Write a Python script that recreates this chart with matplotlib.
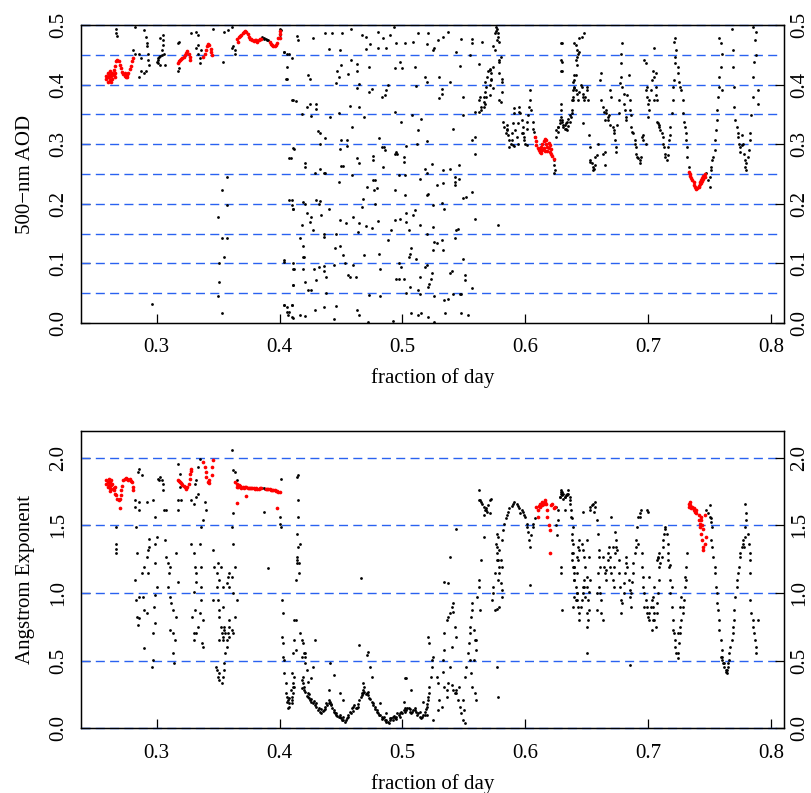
import numpy as np
import matplotlib
matplotlib.use("Agg")
import matplotlib.pyplot as plt

plt.rcParams['font.family'] = ['Liberation Serif', 'DejaVu Serif']

# ---- 500-nm AOD: (fraction of day, AOD) ----
aod_red = [
    (0.259, 0.410), (0.259, 0.415), (0.260, 0.405), (0.260, 0.420), (0.261, 0.412), (0.261, 0.418),
    (0.262, 0.408), (0.262, 0.423), (0.263, 0.414), (0.263, 0.405), (0.264, 0.419), (0.264, 0.410),
    (0.265, 0.416), (0.265, 0.425), (0.266, 0.420), (0.266, 0.412), (0.260, 0.413), (0.262, 0.416),
    (0.266, 0.432), (0.267, 0.440), (0.268, 0.442), (0.269, 0.439), (0.270, 0.433), (0.271, 0.427),
    (0.272, 0.421), (0.273, 0.417), (0.274, 0.414), (0.275, 0.413), (0.276, 0.416), (0.277, 0.420),
    (0.278, 0.426), (0.279, 0.432), (0.280, 0.439), (0.281, 0.445), (0.274, 0.419), (0.276, 0.412),
    (0.317, 0.436), (0.318, 0.439), (0.319, 0.441), (0.320, 0.443), (0.321, 0.445), (0.322, 0.447),
    (0.323, 0.450), (0.324, 0.453), (0.325, 0.457), (0.326, 0.452), (0.327, 0.446), (0.327, 0.442),
    (0.338, 0.447), (0.339, 0.452), (0.340, 0.458), (0.341, 0.464), (0.342, 0.468), (0.343, 0.466),
    (0.344, 0.460), (0.344, 0.454), (0.345, 0.450),
    (0.365, 0.476), (0.366, 0.472), (0.367, 0.479), (0.368, 0.481), (0.369, 0.484), (0.370, 0.486),
    (0.371, 0.489), (0.372, 0.490), (0.373, 0.488), (0.374, 0.485), (0.375, 0.480), (0.376, 0.477),
    (0.377, 0.476), (0.378, 0.474), (0.379, 0.473), (0.380, 0.475), (0.381, 0.474), (0.382, 0.472),
    (0.383, 0.474), (0.384, 0.476), (0.385, 0.477), (0.392, 0.471), (0.393, 0.468), (0.394, 0.466),
    (0.395, 0.465), (0.396, 0.464), (0.397, 0.467), (0.398, 0.470), (0.399, 0.478), (0.400, 0.485),
    (0.400, 0.490), (0.400, 0.478),
    (0.608, 0.312), (0.609, 0.305), (0.609, 0.298), (0.610, 0.293), (0.611, 0.290), (0.612, 0.287),
    (0.612, 0.292), (0.613, 0.286), (0.613, 0.296), (0.614, 0.290), (0.614, 0.300), (0.615, 0.305),
    (0.615, 0.294), (0.616, 0.309), (0.616, 0.288), (0.617, 0.300), (0.617, 0.307), (0.618, 0.295),
    (0.618, 0.289), (0.619, 0.302), (0.619, 0.293), (0.620, 0.298), (0.620, 0.287), (0.621, 0.292),
    (0.621, 0.284), (0.622, 0.280), (0.623, 0.275),
    (0.733, 0.254), (0.734, 0.250), (0.734, 0.246), (0.735, 0.243), (0.736, 0.240), (0.737, 0.236),
    (0.737, 0.232), (0.738, 0.229), (0.739, 0.226), (0.739, 0.224), (0.740, 0.226), (0.741, 0.230),
    (0.741, 0.228), (0.742, 0.233), (0.742, 0.237), (0.743, 0.235), (0.743, 0.240), (0.744, 0.244),
    (0.744, 0.238), (0.745, 0.247), (0.745, 0.241), (0.746, 0.250), (0.746, 0.245),
]

aod_morning = [
    (0.267, 0.493), (0.267, 0.486), (0.268, 0.482), (0.282, 0.496), (0.281, 0.458), (0.282, 0.452),
    (0.286, 0.452), (0.287, 0.444), (0.286, 0.413), (0.287, 0.422), (0.290, 0.492), (0.291, 0.480),
    (0.292, 0.470), (0.292, 0.464), (0.293, 0.452), (0.293, 0.441), (0.294, 0.433), (0.291, 0.422),
    (0.290, 0.419), (0.300, 0.438), (0.301, 0.441), (0.301, 0.444), (0.302, 0.447), (0.303, 0.448),
    (0.304, 0.450), (0.301, 0.436), (0.305, 0.483), (0.305, 0.475), (0.305, 0.466), (0.304, 0.458),
    (0.306, 0.452), (0.307, 0.433), (0.303, 0.433), (0.303, 0.478), (0.317, 0.469), (0.318, 0.472),
    (0.318, 0.427), (0.317, 0.422), (0.328, 0.486), (0.332, 0.489), (0.334, 0.483), (0.334, 0.466),
    (0.332, 0.461), (0.334, 0.452), (0.335, 0.444), (0.335, 0.436), (0.336, 0.458), (0.346, 0.493),
    (0.354, 0.438), (0.355, 0.489), (0.358, 0.492), (0.361, 0.461), (0.362, 0.464), (0.364, 0.458),
    (0.364, 0.452), (0.361, 0.497), (0.386, 0.479), (0.387, 0.478), (0.389, 0.476), (0.390, 0.475),
    (0.391, 0.474), (0.387, 0.476), (0.357, 0.245), (0.353, 0.223), (0.350, 0.178), (0.357, 0.198),
    (0.353, 0.142), (0.357, 0.142), (0.355, 0.111), (0.351, 0.100), (0.351, 0.069), (0.350, 0.045),
    (0.353, 0.016), (0.296, 0.032),
    (0.401, 0.492), (0.404, 0.455), (0.406, 0.452), (0.408, 0.452), (0.406, 0.430), (0.406, 0.410),
    (0.410, 0.374), (0.411, 0.293), (0.409, 0.276), (0.410, 0.206), (0.411, 0.192), (0.410, 0.198),
    (0.404, 0.105), (0.411, 0.091), (0.411, 0.063), (0.404, 0.031), (0.406, 0.027), (0.410, 0.030),
    (0.408, 0.018), (0.410, 0.010),
]

aod_midday = [
    (0.400, 0.493), (0.400, 0.483), (0.404, 0.455), (0.410, 0.444), (0.405, 0.410), (0.414, 0.482),
    (0.415, 0.475), (0.427, 0.478), (0.437, 0.486), (0.443, 0.487), (0.451, 0.486), (0.458, 0.493),
    (0.467, 0.483), (0.470, 0.479), (0.480, 0.488), (0.484, 0.478), (0.490, 0.483), (0.493, 0.497),
    (0.440, 0.459), (0.449, 0.458), (0.470, 0.459), (0.474, 0.468), (0.480, 0.462), (0.487, 0.462),
    (0.495, 0.469), (0.502, 0.469), (0.509, 0.472), (0.513, 0.487), (0.520, 0.468), (0.521, 0.486),
    (0.525, 0.458), (0.526, 0.462), (0.529, 0.475), (0.533, 0.480), (0.537, 0.488), (0.548, 0.476),
    (0.557, 0.476), (0.557, 0.469), (0.565, 0.472), (0.574, 0.464), (0.575, 0.486), (0.576, 0.490),
    (0.577, 0.494), (0.578, 0.480), (0.579, 0.472),
    (0.458, 0.442), (0.450, 0.433), (0.463, 0.434), (0.494, 0.427), (0.498, 0.438), (0.500, 0.427),
    (0.510, 0.430), (0.547, 0.432), (0.562, 0.434), (0.555, 0.450), (0.544, 0.454), (0.579, 0.438),
    (0.580, 0.447), (0.447, 0.422), (0.456, 0.418), (0.463, 0.422), (0.473, 0.430), (0.423, 0.416),
    (0.425, 0.409), (0.448, 0.413), (0.446, 0.402), (0.463, 0.394), (0.465, 0.401), (0.473, 0.388),
    (0.475, 0.392), (0.486, 0.382), (0.487, 0.391), (0.488, 0.399), (0.511, 0.398), (0.518, 0.412),
    (0.520, 0.405), (0.530, 0.412), (0.532, 0.392), (0.532, 0.385), (0.530, 0.378), (0.539, 0.405),
    (0.549, 0.380),
    (0.411, 0.374), (0.413, 0.373), (0.422, 0.362), (0.425, 0.367), (0.430, 0.367), (0.430, 0.359),
    (0.426, 0.347), (0.418, 0.350), (0.441, 0.346), (0.448, 0.352), (0.457, 0.364), (0.465, 0.363),
    (0.469, 0.346), (0.483, 0.380), (0.494, 0.354), (0.499, 0.338), (0.508, 0.349), (0.515, 0.343),
    (0.513, 0.324), (0.520, 0.306), (0.549, 0.349), (0.559, 0.312), (0.557, 0.307), (0.559, 0.283),
    (0.541, 0.326), (0.481, 0.311), (0.485, 0.296), (0.495, 0.287), (0.503, 0.297), (0.512, 0.300),
    (0.433, 0.300), (0.437, 0.310), (0.433, 0.318), (0.431, 0.322), (0.450, 0.307), (0.455, 0.307),
    (0.459, 0.329), (0.449, 0.292), (0.455, 0.297), (0.463, 0.276), (0.465, 0.269), (0.476, 0.280),
    (0.476, 0.273), (0.483, 0.296), (0.486, 0.290), (0.484, 0.262), (0.494, 0.283), (0.496, 0.284),
    (0.501, 0.279), (0.501, 0.270),
    (0.408, 0.276), (0.412, 0.292), (0.421, 0.268), (0.421, 0.262), (0.429, 0.252), (0.433, 0.258),
    (0.436, 0.251), (0.437, 0.252), (0.450, 0.264), (0.452, 0.264), (0.459, 0.248), (0.476, 0.240),
    (0.478, 0.240), (0.477, 0.223), (0.479, 0.226), (0.471, 0.228), (0.468, 0.208), (0.467, 0.195),
    (0.448, 0.237), (0.408, 0.206), (0.411, 0.192), (0.419, 0.203), (0.421, 0.200), (0.430, 0.206),
    (0.432, 0.200), (0.433, 0.204), (0.440, 0.192), (0.422, 0.184), (0.426, 0.178), (0.434, 0.181),
    (0.425, 0.170), (0.418, 0.164), (0.417, 0.143), (0.419, 0.130), (0.427, 0.156), (0.436, 0.150),
    (0.436, 0.144), (0.446, 0.150), (0.449, 0.172), (0.454, 0.168), (0.460, 0.178), (0.465, 0.167),
    (0.464, 0.153), (0.470, 0.163), (0.475, 0.159), (0.480, 0.171), (0.488, 0.139), (0.491, 0.156),
    (0.494, 0.172), (0.498, 0.175), (0.503, 0.170), (0.505, 0.156), (0.509, 0.181), (0.514, 0.164),
    (0.520, 0.150), (0.525, 0.161), (0.526, 0.136), (0.532, 0.139), (0.533, 0.122), (0.543, 0.142),
    (0.544, 0.156), (0.545, 0.158), (0.502, 0.214), (0.503, 0.184), (0.510, 0.189), (0.520, 0.214),
    (0.521, 0.216), (0.525, 0.198), (0.532, 0.202), (0.534, 0.192), (0.502, 0.248), (0.514, 0.241),
    (0.518, 0.259), (0.520, 0.252), (0.524, 0.266), (0.528, 0.232), (0.533, 0.235), (0.533, 0.256),
    (0.539, 0.259), (0.543, 0.245), (0.543, 0.237), (0.546, 0.242), (0.546, 0.265), (0.549, 0.209),
    (0.552, 0.212), (0.557, 0.219), (0.559, 0.175), (0.578, 0.164), (0.543, 0.231), (0.497, 0.248),
    (0.494, 0.223), (0.478, 0.200),
    (0.404, 0.102), (0.411, 0.100), (0.412, 0.090), (0.419, 0.111), (0.420, 0.111), (0.419, 0.090),
    (0.428, 0.091), (0.432, 0.094), (0.436, 0.096), (0.436, 0.088), (0.444, 0.097), (0.445, 0.125),
    (0.449, 0.129), (0.452, 0.114), (0.453, 0.100), (0.460, 0.097), (0.469, 0.114), (0.481, 0.116),
    (0.482, 0.091), (0.497, 0.100), (0.499, 0.094), (0.505, 0.111), (0.507, 0.125), (0.506, 0.116),
    (0.511, 0.108), (0.514, 0.077), (0.518, 0.094), (0.520, 0.097), (0.524, 0.084), (0.525, 0.122),
    (0.528, 0.134), (0.539, 0.084), (0.540, 0.087), (0.549, 0.108), (0.551, 0.080), (0.551, 0.072),
    (0.411, 0.063), (0.421, 0.069), (0.423, 0.055), (0.426, 0.056), (0.430, 0.072), (0.438, 0.077),
    (0.456, 0.080), (0.457, 0.077), (0.462, 0.077), (0.495, 0.074), (0.497, 0.073), (0.501, 0.074),
    (0.506, 0.060), (0.503, 0.050), (0.513, 0.055), (0.514, 0.049), (0.521, 0.060), (0.522, 0.066),
    (0.523, 0.073), (0.526, 0.046), (0.541, 0.049), (0.547, 0.049), (0.548, 0.048), (0.557, 0.058),
    (0.404, 0.030), (0.406, 0.018), (0.410, 0.030), (0.407, 0.013), (0.411, 0.009), (0.417, 0.014),
    (0.421, 0.011), (0.429, 0.021), (0.436, 0.027), (0.438, 0.050), (0.444, 0.007), (0.446, 0.028),
    (0.463, 0.021), (0.465, 0.014), (0.472, 0.002), (0.473, 0.047), (0.482, 0.046), (0.492, 0.004),
    (0.507, 0.016), (0.513, 0.014), (0.515, 0.016), (0.521, 0.010), (0.526, 0.002), (0.534, 0.038),
    (0.535, 0.016), (0.537, 0.041), (0.548, 0.016), (0.553, 0.013),
    (0.559, 0.354), (0.562, 0.374), (0.563, 0.380), (0.564, 0.363), (0.562, 0.354), (0.566, 0.371),
    (0.566, 0.380), (0.567, 0.388), (0.568, 0.396), (0.567, 0.405), (0.569, 0.413), (0.570, 0.422),
    (0.571, 0.426), (0.572, 0.419), (0.571, 0.399), (0.572, 0.408), (0.574, 0.394), (0.571, 0.382),
    (0.568, 0.380), (0.566, 0.363), (0.564, 0.357), (0.567, 0.368), (0.571, 0.424), (0.572, 0.410),
    (0.574, 0.430), (0.575, 0.458), (0.577, 0.475), (0.578, 0.486), (0.576, 0.497), (0.579, 0.441),
    (0.579, 0.419), (0.581, 0.405), (0.581, 0.410), (0.581, 0.388), (0.580, 0.371), (0.579, 0.374),
]

aod_afternoon = [
    (0.582, 0.338), (0.583, 0.329), (0.585, 0.332), (0.585, 0.324), (0.586, 0.315), (0.587, 0.307),
    (0.587, 0.296), (0.588, 0.301), (0.589, 0.307), (0.589, 0.318), (0.590, 0.335), (0.591, 0.352),
    (0.591, 0.360), (0.592, 0.324), (0.593, 0.312), (0.594, 0.301), (0.594, 0.335), (0.595, 0.354),
    (0.595, 0.363), (0.596, 0.352), (0.597, 0.340), (0.598, 0.329), (0.598, 0.318), (0.599, 0.307),
    (0.600, 0.301), (0.601, 0.326), (0.601, 0.338), (0.602, 0.349), (0.603, 0.363), (0.604, 0.374),
    (0.604, 0.391), (0.605, 0.357), (0.606, 0.338), (0.606, 0.326), (0.607, 0.321), (0.608, 0.312),
    (0.584, 0.318), (0.585, 0.326), (0.590, 0.298), (0.591, 0.297), (0.597, 0.318), (0.599, 0.312),
    (0.601, 0.298),
    (0.623, 0.273), (0.623, 0.265), (0.624, 0.256), (0.623, 0.251),
    (0.625, 0.312), (0.627, 0.321), (0.627, 0.329), (0.628, 0.340), (0.629, 0.346), (0.630, 0.338),
    (0.631, 0.329), (0.632, 0.332), (0.633, 0.335), (0.633, 0.326), (0.634, 0.324), (0.635, 0.330),
    (0.636, 0.338), (0.637, 0.346), (0.638, 0.357), (0.638, 0.374), (0.639, 0.391), (0.639, 0.405),
    (0.640, 0.416), (0.641, 0.441), (0.642, 0.458), (0.641, 0.466), (0.629, 0.357), (0.629, 0.422),
    (0.629, 0.441), (0.629, 0.470), (0.640, 0.396),
    (0.625, 0.324), (0.627, 0.329), (0.628, 0.335), (0.630, 0.340), (0.631, 0.332), (0.632, 0.326),
    (0.634, 0.338), (0.635, 0.343), (0.636, 0.349), (0.638, 0.352), (0.629, 0.368), (0.630, 0.422),
    (0.630, 0.438), (0.630, 0.469),
    (0.639, 0.380), (0.640, 0.394), (0.640, 0.408), (0.641, 0.416), (0.642, 0.433), (0.642, 0.447),
    (0.643, 0.452), (0.644, 0.455), (0.644, 0.478), (0.646, 0.480), (0.648, 0.486), (0.640, 0.469),
    (0.639, 0.374), (0.641, 0.391), (0.642, 0.385), (0.643, 0.374), (0.644, 0.388), (0.645, 0.399),
    (0.646, 0.396), (0.647, 0.385), (0.647, 0.380), (0.648, 0.374), (0.649, 0.380), (0.650, 0.391),
    (0.650, 0.396), (0.651, 0.374), (0.647, 0.335), (0.652, 0.315),
    (0.653, 0.296), (0.653, 0.273), (0.654, 0.268), (0.655, 0.262), (0.656, 0.259), (0.657, 0.265),
    (0.657, 0.279), (0.658, 0.282), (0.655, 0.256), (0.653, 0.270), (0.659, 0.301), (0.665, 0.287),
    (0.665, 0.265), (0.663, 0.284),
    (0.661, 0.408), (0.662, 0.419), (0.662, 0.374), (0.663, 0.363), (0.664, 0.354), (0.665, 0.340),
    (0.666, 0.352), (0.666, 0.357), (0.667, 0.346), (0.667, 0.340), (0.668, 0.349), (0.669, 0.332),
    (0.669, 0.391), (0.670, 0.380), (0.671, 0.329), (0.672, 0.324), (0.672, 0.318), (0.673, 0.307),
    (0.674, 0.296), (0.674, 0.287), (0.675, 0.332), (0.676, 0.352), (0.676, 0.374), (0.677, 0.402),
    (0.678, 0.436), (0.678, 0.452), (0.679, 0.469), (0.678, 0.413), (0.679, 0.396), (0.680, 0.385),
    (0.680, 0.368), (0.681, 0.357), (0.682, 0.346), (0.682, 0.340), (0.683, 0.382), (0.684, 0.416),
    (0.685, 0.374), (0.685, 0.357), (0.686, 0.349),
    (0.686, 0.329), (0.687, 0.321), (0.688, 0.318), (0.689, 0.307), (0.689, 0.301), (0.690, 0.296),
    (0.690, 0.284), (0.691, 0.279), (0.692, 0.276), (0.693, 0.273), (0.693, 0.269), (0.694, 0.279),
    (0.695, 0.312), (0.696, 0.315), (0.696, 0.307), (0.698, 0.301),
    (0.697, 0.441), (0.698, 0.436), (0.699, 0.396), (0.699, 0.380), (0.700, 0.368), (0.701, 0.357),
    (0.701, 0.374), (0.702, 0.391), (0.703, 0.408), (0.704, 0.422), (0.705, 0.413), (0.706, 0.396),
    (0.706, 0.382), (0.707, 0.374), (0.705, 0.461), (0.706, 0.419), (0.705, 0.374), (0.700, 0.346),
    (0.698, 0.391),
    (0.707, 0.338), (0.708, 0.335), (0.709, 0.329), (0.709, 0.332), (0.710, 0.324), (0.711, 0.318),
    (0.712, 0.312), (0.712, 0.301), (0.713, 0.296), (0.714, 0.284), (0.714, 0.279), (0.715, 0.274),
    (0.716, 0.282), (0.716, 0.296), (0.717, 0.307), (0.718, 0.315), (0.718, 0.329), (0.719, 0.352),
    (0.720, 0.374), (0.720, 0.396), (0.721, 0.408), (0.722, 0.436), (0.722, 0.447), (0.722, 0.478),
    (0.721, 0.472), (0.723, 0.458), (0.724, 0.430), (0.724, 0.419), (0.725, 0.405), (0.726, 0.396),
    (0.727, 0.391), (0.728, 0.374), (0.728, 0.352), (0.729, 0.338), (0.730, 0.329), (0.731, 0.318),
    (0.731, 0.307), (0.732, 0.296), (0.732, 0.279), (0.733, 0.262),
    (0.747, 0.251), (0.749, 0.240), (0.750, 0.228), (0.750, 0.245), (0.751, 0.256), (0.751, 0.262),
    (0.752, 0.273), (0.753, 0.279), (0.754, 0.290), (0.754, 0.307), (0.755, 0.324), (0.756, 0.340),
    (0.756, 0.357), (0.757, 0.380), (0.758, 0.396), (0.758, 0.413), (0.759, 0.430), (0.760, 0.452),
    (0.759, 0.469), (0.758, 0.478), (0.760, 0.391),
    (0.768, 0.494), (0.769, 0.458), (0.769, 0.430), (0.770, 0.396), (0.770, 0.363), (0.771, 0.340),
    (0.772, 0.329), (0.773, 0.318), (0.773, 0.312), (0.774, 0.301), (0.775, 0.296), (0.775, 0.287),
    (0.776, 0.298), (0.776, 0.315), (0.777, 0.301), (0.778, 0.284), (0.779, 0.273), (0.779, 0.262),
    (0.780, 0.256), (0.780, 0.268), (0.781, 0.279), (0.782, 0.290), (0.783, 0.307), (0.783, 0.318),
    (0.784, 0.349), (0.785, 0.380), (0.785, 0.413), (0.786, 0.438), (0.787, 0.475), (0.788, 0.489),
    (0.788, 0.450), (0.789, 0.391), (0.789, 0.368), (0.785, 0.497),
]

# ---- Angstrom exponent: (fraction of day, alpha) ----
ang_red = [
    (0.259, 1.833), (0.259, 1.808), (0.260, 1.784), (0.260, 1.820), (0.261, 1.796), (0.261, 1.845),
    (0.262, 1.779), (0.262, 1.820), (0.263, 1.796), (0.263, 1.833), (0.264, 1.808), (0.265, 1.779),
    (0.265, 1.759), (0.266, 1.784), (0.266, 1.734), (0.267, 1.722), (0.268, 1.697), (0.269, 1.685),
    (0.270, 1.697), (0.270, 1.624), (0.271, 1.722), (0.271, 1.759), (0.272, 1.790), (0.273, 1.833),
    (0.274, 1.845), (0.275, 1.852), (0.276, 1.840), (0.277, 1.833), (0.278, 1.845), (0.279, 1.830),
    (0.280, 1.820), (0.281, 1.784), (0.281, 1.764), (0.262, 1.754), (0.263, 1.770),
    (0.317, 1.833), (0.318, 1.830), (0.319, 1.820), (0.320, 1.812), (0.321, 1.800), (0.322, 1.790),
    (0.323, 1.784), (0.324, 1.771), (0.325, 1.780), (0.326, 1.808), (0.327, 1.845), (0.327, 1.880),
    (0.328, 1.919), (0.328, 1.900),
    (0.338, 1.968), (0.339, 1.931), (0.340, 1.894), (0.340, 1.857), (0.342, 1.820), (0.343, 1.810),
    (0.343, 1.833), (0.345, 1.870), (0.345, 1.931), (0.346, 1.980),
    (0.364, 1.820), (0.365, 1.808), (0.366, 1.784), (0.367, 1.796), (0.368, 1.790), (0.369, 1.779),
    (0.370, 1.784), (0.371, 1.776), (0.372, 1.780), (0.373, 1.784), (0.374, 1.776), (0.375, 1.774),
    (0.376, 1.774), (0.377, 1.778), (0.378, 1.776), (0.379, 1.774), (0.380, 1.771), (0.381, 1.774),
    (0.382, 1.771), (0.383, 1.771), (0.384, 1.774), (0.385, 1.776), (0.389, 1.771), (0.390, 1.769),
    (0.391, 1.771), (0.392, 1.766), (0.393, 1.764), (0.394, 1.762), (0.395, 1.759), (0.396, 1.759),
    (0.397, 1.754), (0.398, 1.751), (0.399, 1.747), (0.400, 1.747), (0.365, 1.784), (0.373, 1.715),
    (0.365, 1.665), (0.398, 1.624),
    (0.609, 1.636), (0.610, 1.562), (0.610, 1.611), (0.611, 1.641), (0.612, 1.636), (0.613, 1.648),
    (0.614, 1.673), (0.616, 1.685), (0.617, 1.660), (0.618, 1.611), (0.618, 1.562), (0.619, 1.501),
    (0.620, 1.464), (0.620, 1.292), (0.621, 1.648), (0.622, 1.660), (0.623, 1.624), (0.624, 1.636),
    (0.615, 1.660), (0.612, 1.655), (0.616, 1.670), (0.614, 1.650),
    (0.733, 1.636), (0.733, 1.660), (0.734, 1.673), (0.734, 1.648), (0.735, 1.624), (0.736, 1.636),
    (0.737, 1.611), (0.737, 1.624), (0.738, 1.599), (0.739, 1.611), (0.739, 1.587), (0.741, 1.574),
    (0.741, 1.537), (0.742, 1.513), (0.743, 1.562), (0.743, 1.537), (0.744, 1.501), (0.745, 1.476),
    (0.743, 1.439), (0.744, 1.390), (0.745, 1.341), (0.745, 1.316), (0.746, 1.365), (0.747, 1.414),
    (0.746, 1.574), (0.742, 1.488),
]

ang_morning = [
    (0.267, 1.488), (0.267, 1.365), (0.267, 1.296), (0.267, 1.328),
    (0.285, 1.894), (0.286, 1.919), (0.288, 1.870), (0.282, 1.685), (0.282, 1.636), (0.286, 1.611),
    (0.286, 1.673), (0.283, 1.488), (0.284, 1.292), (0.282, 1.095), (0.283, 0.947), (0.284, 0.824),
    (0.285, 0.763), (0.286, 0.812), (0.286, 0.972), (0.288, 1.144), (0.289, 0.972), (0.290, 0.873),
    (0.292, 0.849), (0.293, 1.144), (0.290, 1.193), (0.292, 1.267), (0.293, 1.316), (0.294, 1.341),
    (0.290, 0.590), (0.297, 0.504), (0.296, 0.455), (0.297, 0.701), (0.299, 0.775), (0.298, 0.898),
    (0.299, 0.984), (0.300, 1.045), (0.299, 1.218), (0.299, 1.365), (0.300, 1.414), (0.294, 1.402),
    (0.299, 1.562), (0.292, 1.673), (0.297, 1.685),
    (0.301, 1.845), (0.303, 1.857), (0.304, 1.833), (0.302, 1.838), (0.305, 1.808), (0.305, 1.759),
    (0.306, 1.611), (0.308, 1.611), (0.307, 1.390), (0.308, 1.267), (0.309, 1.218), (0.311, 1.193),
    (0.310, 1.144), (0.309, 1.045), (0.311, 0.972), (0.312, 0.922), (0.313, 0.873), (0.311, 0.726),
    (0.313, 0.701), (0.313, 0.553), (0.314, 0.480), (0.315, 0.652), (0.316, 0.824), (0.317, 1.082),
    (0.316, 1.292), (0.317, 1.611), (0.317, 1.685), (0.317, 1.956), (0.319, 1.882), (0.319, 1.784),
    (0.320, 1.685), (0.321, 1.808),
    (0.328, 1.685), (0.330, 1.660), (0.331, 1.808), (0.332, 1.833), (0.334, 1.931), (0.335, 1.993),
    (0.334, 1.734), (0.332, 1.710), (0.328, 1.365), (0.330, 1.292), (0.331, 1.193), (0.332, 1.144),
    (0.332, 1.082), (0.330, 1.008), (0.331, 0.873), (0.329, 0.824), (0.330, 0.701), (0.330, 0.652),
    (0.332, 0.701), (0.334, 0.750), (0.335, 0.849), (0.336, 0.947), (0.336, 1.045), (0.338, 0.799),
    (0.337, 0.627), (0.338, 0.603), (0.336, 1.193), (0.335, 1.365), (0.336, 1.488), (0.338, 1.537),
    (0.339, 1.673), (0.340, 1.611),
    (0.346, 1.316), (0.347, 1.193), (0.349, 1.144), (0.349, 1.045), (0.350, 0.947), (0.351, 0.873),
    (0.351, 0.824), (0.352, 0.750), (0.353, 0.701), (0.354, 0.652), (0.354, 0.676), (0.355, 0.726),
    (0.355, 0.750), (0.356, 0.701), (0.357, 0.652), (0.358, 0.701), (0.359, 0.750), (0.361, 0.726),
    (0.362, 0.701), (0.364, 0.824), (0.365, 0.947), (0.362, 0.996), (0.359, 1.045), (0.361, 1.119),
    (0.364, 1.193), (0.362, 1.365), (0.361, 1.488), (0.362, 1.587), (0.361, 2.054), (0.362, 1.907),
    (0.364, 1.894), (0.365, 1.833), (0.346, 0.947), (0.350, 1.218), (0.351, 1.095), (0.348, 0.455),
    (0.349, 0.430), (0.350, 0.381), (0.351, 0.356), (0.351, 0.406), (0.353, 0.332), (0.354, 0.381),
    (0.355, 0.430), (0.355, 0.480), (0.356, 0.553), (0.357, 0.603), (0.359, 0.676), (0.359, 0.799),
    (0.354, 0.898), (0.351, 0.652), (0.354, 1.045), (0.352, 1.193), (0.357, 1.070), (0.358, 1.119),
    (0.359, 1.144), (0.386, 1.776), (0.387, 1.779), (0.388, 1.771), (0.387, 1.599), (0.391, 1.181),
    (0.401, 1.845), (0.400, 1.562), (0.400, 1.513), (0.401, 1.488), (0.402, 0.947), (0.403, 0.849),
    (0.402, 0.676), (0.403, 0.627), (0.403, 0.529), (0.404, 0.504), (0.404, 0.406), (0.405, 0.332),
    (0.405, 0.258), (0.406, 0.234), (0.407, 0.209), (0.408, 0.184), (0.408, 0.160), (0.410, 0.184),
    (0.410, 0.234), (0.411, 0.258), (0.409, 0.283), (0.407, 0.148), (0.412, 0.307), (0.411, 0.332),
    (0.412, 0.381), (0.413, 0.578), (0.412, 0.652), (0.412, 0.799), (0.414, 1.218), (0.414, 1.267),
    (0.415, 1.341), (0.414, 1.439), (0.415, 1.562), (0.414, 1.857), (0.416, 1.218), (0.406, 0.197),
    (0.408, 0.221), (0.410, 0.209), (0.413, 1.095), (0.414, 1.242), (0.415, 1.685), (0.415, 1.870),
    (0.416, 1.144), (0.417, 1.365), (0.413, 0.799), (0.411, 0.553), (0.410, 0.406), (0.411, 0.307),
]

ang_midday = [
    (0.417, 0.701), (0.418, 0.652), (0.419, 0.627), (0.420, 0.553), (0.421, 0.480), (0.422, 0.430),
    (0.421, 0.529), (0.419, 0.381), (0.418, 0.356), (0.419, 0.332), (0.420, 0.307), (0.421, 0.271),
    (0.423, 0.258), (0.423, 0.234), (0.424, 0.221), (0.425, 0.209), (0.426, 0.197), (0.427, 0.184),
    (0.429, 0.172), (0.430, 0.160), (0.431, 0.135), (0.433, 0.123), (0.434, 0.111), (0.436, 0.135),
    (0.437, 0.160), (0.438, 0.184), (0.440, 0.209), (0.441, 0.197), (0.442, 0.172), (0.444, 0.135),
    (0.445, 0.111), (0.446, 0.098), (0.448, 0.086), (0.449, 0.098), (0.450, 0.074), (0.452, 0.062),
    (0.453, 0.049), (0.455, 0.074), (0.456, 0.098), (0.457, 0.123), (0.459, 0.148), (0.460, 0.160),
    (0.461, 0.172), (0.463, 0.148), (0.464, 0.160), (0.465, 0.209), (0.467, 0.258), (0.468, 0.283),
    (0.469, 0.271), (0.471, 0.258), (0.472, 0.246), (0.473, 0.221), (0.475, 0.197), (0.476, 0.172),
    (0.478, 0.160), (0.479, 0.135), (0.480, 0.111), (0.482, 0.098), (0.483, 0.086), (0.484, 0.074),
    (0.486, 0.062), (0.487, 0.049), (0.488, 0.049), (0.490, 0.062), (0.491, 0.074), (0.492, 0.086),
    (0.494, 0.074), (0.495, 0.086), (0.497, 0.098), (0.498, 0.111), (0.499, 0.123), (0.501, 0.135),
    (0.502, 0.148), (0.503, 0.135), (0.505, 0.148), (0.506, 0.123), (0.507, 0.111), (0.509, 0.135),
    (0.510, 0.135), (0.511, 0.123), (0.513, 0.111), (0.514, 0.086), (0.515, 0.074), (0.517, 0.098),
    (0.518, 0.123), (0.520, 0.160), (0.521, 0.209), (0.522, 0.258), (0.522, 0.307), (0.523, 0.381),
    (0.524, 0.455), (0.524, 0.504), (0.525, 0.529),
    (0.418, 0.300), (0.420, 0.280), (0.422, 0.240), (0.424, 0.250), (0.426, 0.220), (0.428, 0.200),
    (0.430, 0.190), (0.432, 0.150), (0.434, 0.140), (0.435, 0.125), (0.437, 0.140), (0.439, 0.170),
    (0.440, 0.190), (0.442, 0.180), (0.443, 0.150), (0.444, 0.120), (0.446, 0.110), (0.447, 0.090),
    (0.449, 0.080), (0.451, 0.060), (0.452, 0.080), (0.454, 0.060), (0.456, 0.085), (0.458, 0.110),
    (0.460, 0.130), (0.462, 0.150), (0.464, 0.180), (0.466, 0.230), (0.468, 0.260), (0.470, 0.250),
    (0.472, 0.270), (0.474, 0.220), (0.476, 0.190), (0.478, 0.140), (0.479, 0.120), (0.481, 0.095),
    (0.483, 0.070), (0.485, 0.080), (0.487, 0.060), (0.489, 0.040), (0.490, 0.075), (0.492, 0.060),
    (0.493, 0.090), (0.495, 0.070), (0.496, 0.110), (0.498, 0.085), (0.500, 0.110), (0.502, 0.120),
    (0.504, 0.150), (0.506, 0.140), (0.508, 0.120), (0.510, 0.150), (0.512, 0.100), (0.514, 0.120),
    (0.516, 0.080), (0.518, 0.100), (0.519, 0.140), (0.520, 0.180), (0.521, 0.230),
    (0.423, 0.344), (0.426, 0.369), (0.427, 0.455), (0.429, 0.652), (0.421, 0.553), (0.418, 0.529),
    (0.441, 0.480), (0.444, 0.393), (0.449, 0.258), (0.452, 0.209), (0.440, 0.283), (0.465, 0.615),
    (0.471, 0.541), (0.472, 0.566), (0.468, 0.332), (0.469, 0.307), (0.474, 0.455), (0.475, 0.381),
    (0.467, 0.246), (0.482, 0.184), (0.487, 0.111), (0.503, 0.374), (0.507, 0.283), (0.501, 0.197),
    (0.520, 0.098), (0.517, 0.197), (0.521, 0.676), (0.522, 0.627), (0.528, 0.381), (0.529, 0.332),
    (0.530, 0.209), (0.532, 0.160), (0.529, 0.135), (0.525, 0.062), (0.533, 0.418), (0.533, 0.504),
    (0.534, 0.578), (0.534, 0.701), (0.536, 0.799), (0.537, 0.824), (0.539, 0.849), (0.540, 0.898),
    (0.541, 0.922), (0.541, 0.861), (0.543, 0.750), (0.544, 0.676), (0.534, 1.082), (0.537, 1.070),
    (0.539, 1.267), (0.544, 1.476), (0.540, 0.603), (0.539, 0.455), (0.537, 0.332), (0.536, 0.283),
    (0.534, 0.307), (0.536, 0.234), (0.540, 0.320), (0.541, 0.283), (0.543, 0.258), (0.544, 0.283),
    (0.545, 0.209), (0.547, 0.160), (0.548, 0.111), (0.549, 0.062), (0.551, 0.037), (0.550, 0.135),
    (0.549, 0.209), (0.544, 0.258), (0.546, 0.307), (0.551, 0.381), (0.552, 0.455), (0.553, 0.553),
    (0.554, 0.627), (0.555, 0.701), (0.555, 0.750), (0.556, 0.824), (0.557, 0.873), (0.557, 0.922),
    (0.558, 0.726), (0.559, 0.652), (0.560, 0.578), (0.560, 0.209), (0.559, 0.258), (0.557, 0.307),
    (0.556, 0.406), (0.555, 0.504), (0.558, 0.504), (0.560, 0.652), (0.561, 0.972), (0.562, 1.045),
    (0.562, 1.095), (0.563, 0.873), (0.564, 1.242), (0.566, 1.414), (0.466, 1.107), (0.502, 0.369),
    (0.563, 1.685), (0.562, 1.685), (0.562, 1.759), (0.564, 1.673), (0.565, 1.660), (0.566, 1.636),
    (0.567, 1.611), (0.568, 1.624), (0.570, 1.648), (0.571, 1.685), (0.571, 1.587), (0.569, 1.599),
    (0.568, 1.611), (0.572, 1.697), (0.566, 1.574),
    (0.577, 1.439), (0.576, 1.365), (0.577, 1.292), (0.578, 1.242), (0.579, 1.193), (0.579, 1.144),
    (0.580, 1.070), (0.581, 1.021), (0.581, 0.972), (0.579, 0.898), (0.578, 1.095), (0.575, 1.144),
    (0.574, 1.045), (0.574, 0.996), (0.573, 0.947), (0.575, 0.873), (0.577, 1.242), (0.577, 1.341),
    (0.578, 1.414), (0.579, 1.316), (0.580, 1.242), (0.581, 1.193), (0.581, 1.390), (0.582, 1.464),
    (0.583, 1.513), (0.584, 1.550), (0.585, 1.574), (0.586, 1.599), (0.587, 1.624), (0.589, 1.641),
    (0.590, 1.660), (0.591, 1.673), (0.593, 1.660), (0.594, 1.641), (0.595, 1.624), (0.596, 1.587),
    (0.597, 1.611), (0.598, 1.599), (0.599, 1.574), (0.600, 1.562), (0.601, 1.513), (0.601, 1.488),
    (0.602, 1.451), (0.603, 1.390), (0.604, 1.341), (0.605, 1.427), (0.606, 1.488), (0.606, 1.513),
    (0.608, 1.550), (0.604, 1.058), (0.577, 0.455), (0.578, 0.234), (0.577, 0.885),
]

ang_afternoon = [
    (0.625, 1.636), (0.627, 1.611), (0.628, 1.710), (0.629, 1.747), (0.629, 1.759), (0.630, 1.722),
    (0.631, 1.697), (0.632, 1.710), (0.633, 1.722), (0.635, 1.734), (0.636, 1.710), (0.629, 1.193),
    (0.629, 1.144), (0.630, 0.873), (0.632, 1.611), (0.636, 1.685), (0.637, 1.562), (0.638, 1.439),
    (0.639, 1.365), (0.639, 1.292), (0.640, 1.193), (0.640, 1.095), (0.639, 0.898), (0.640, 0.972),
    (0.641, 0.947), (0.642, 0.996), (0.642, 1.144), (0.643, 1.242), (0.644, 1.316),
    (0.628, 1.710), (0.629, 1.734), (0.630, 1.747), (0.631, 1.734), (0.632, 1.710), (0.634, 1.722),
    (0.634, 1.734), (0.635, 1.759), (0.625, 1.501), (0.626, 1.427), (0.627, 1.537),
    (0.636, 1.660), (0.637, 1.611), (0.638, 1.550), (0.639, 1.488), (0.638, 1.390), (0.638, 1.292),
    (0.638, 1.242), (0.639, 1.193), (0.640, 1.144), (0.640, 1.095), (0.641, 1.045), (0.642, 0.996),
    (0.642, 0.947), (0.643, 0.898), (0.644, 0.849),
    (0.644, 0.799), (0.645, 0.898), (0.646, 0.947), (0.647, 0.996), (0.647, 1.045), (0.648, 1.095),
    (0.648, 1.045), (0.649, 0.972), (0.650, 0.849), (0.650, 0.750), (0.651, 0.799), (0.652, 0.873),
    (0.651, 0.947), (0.650, 1.045), (0.650, 1.119), (0.649, 1.193), (0.648, 1.267), (0.647, 1.316),
    (0.646, 1.365), (0.644, 1.390), (0.643, 1.341), (0.642, 1.267), (0.640, 1.193), (0.647, 1.599),
    (0.650, 1.390), (0.652, 1.267), (0.653, 1.095), (0.652, 1.008), (0.650, 0.553),
    (0.653, 1.611), (0.653, 1.636), (0.654, 1.648), (0.655, 1.660), (0.657, 1.636), (0.657, 1.673),
    (0.656, 1.599),
    (0.658, 1.537), (0.659, 1.439), (0.660, 1.316), (0.661, 1.193), (0.661, 0.996), (0.662, 0.849),
    (0.663, 0.799), (0.662, 0.947), (0.660, 1.045), (0.659, 1.144), (0.658, 0.996), (0.660, 1.267),
    (0.658, 0.873), (0.663, 1.267), (0.664, 1.193), (0.665, 1.144), (0.666, 1.095), (0.666, 1.168),
    (0.667, 1.242), (0.667, 1.292), (0.668, 1.341), (0.669, 1.267), (0.669, 1.193), (0.670, 1.144),
    (0.671, 1.095), (0.672, 1.045), (0.672, 1.193), (0.673, 1.292), (0.674, 1.341), (0.674, 1.390),
    (0.675, 1.316), (0.676, 1.242), (0.676, 1.144), (0.677, 1.045), (0.678, 0.947), (0.678, 0.849),
    (0.679, 0.922), (0.680, 0.996), (0.680, 1.070), (0.681, 1.144), (0.682, 1.218), (0.682, 1.267),
    (0.683, 1.193), (0.684, 1.095), (0.685, 1.021), (0.685, 0.972), (0.686, 0.898), (0.686, 0.996),
    (0.687, 1.082), (0.688, 1.144), (0.688, 1.218), (0.689, 1.292), (0.690, 1.341), (0.690, 1.390),
    (0.691, 1.488), (0.692, 1.562), (0.693, 1.587), (0.693, 1.562), (0.694, 1.611), (0.692, 1.365),
    (0.685, 0.467), (0.670, 1.562), (0.671, 1.341), (0.673, 1.451),
    (0.695, 1.292), (0.695, 1.193), (0.696, 1.119), (0.696, 1.045), (0.697, 0.996), (0.698, 0.947),
    (0.699, 0.898), (0.699, 0.849), (0.700, 0.824), (0.701, 0.799), (0.701, 0.849), (0.702, 0.898),
    (0.703, 0.947), (0.704, 0.972), (0.704, 0.898), (0.705, 0.849), (0.705, 0.799), (0.706, 0.750),
    (0.707, 0.849), (0.707, 0.922), (0.708, 0.996), (0.709, 1.095), (0.709, 1.193), (0.707, 1.242),
    (0.708, 1.267), (0.708, 1.255), (0.709, 1.292), (0.710, 1.218), (0.711, 1.267), (0.712, 1.341),
    (0.712, 1.390), (0.713, 1.439), (0.714, 1.476), (0.714, 1.488), (0.715, 1.439), (0.716, 1.365),
    (0.716, 1.292), (0.717, 1.193), (0.718, 1.095), (0.718, 0.996), (0.719, 0.898), (0.720, 0.799),
    (0.720, 0.726), (0.721, 0.701), (0.722, 0.652), (0.722, 0.603), (0.723, 0.553), (0.724, 0.517),
    (0.724, 0.553), (0.725, 0.627), (0.726, 0.701), (0.726, 0.750), (0.727, 0.799), (0.728, 0.849),
    (0.728, 0.898), (0.729, 0.947), (0.730, 1.045), (0.730, 1.119), (0.731, 1.193), (0.732, 1.292),
    (0.699, 1.611), (0.700, 1.599), (0.705, 1.045), (0.701, 1.119), (0.697, 0.898), (0.703, 0.726),
    (0.704, 0.799), (0.716, 1.242), (0.718, 1.205), (0.719, 1.045), (0.724, 0.701), (0.727, 0.972),
    (0.726, 0.898), (0.731, 1.095),
    (0.747, 1.611), (0.749, 1.587), (0.750, 1.562), (0.750, 1.648), (0.751, 1.550), (0.751, 1.525),
    (0.752, 1.488), (0.751, 1.390), (0.752, 1.341), (0.753, 1.267), (0.754, 1.193), (0.754, 1.144),
    (0.755, 1.045), (0.756, 0.996), (0.756, 0.922), (0.757, 0.873), (0.758, 0.799), (0.758, 0.726),
    (0.759, 0.652), (0.760, 0.578), (0.760, 0.529), (0.761, 0.480), (0.762, 0.455), (0.763, 0.430),
    (0.763, 0.418), (0.764, 0.406), (0.764, 0.430), (0.765, 0.455), (0.766, 0.504), (0.766, 0.553),
    (0.767, 0.603), (0.768, 0.652), (0.769, 0.701), (0.769, 0.750), (0.770, 0.799), (0.770, 0.873),
    (0.771, 0.972), (0.772, 1.045), (0.772, 1.095), (0.773, 1.144), (0.774, 1.193), (0.775, 1.267),
    (0.775, 1.292), (0.776, 1.341), (0.777, 1.365), (0.777, 1.390), (0.778, 1.341), (0.779, 1.414),
    (0.779, 1.488), (0.780, 1.587), (0.779, 1.660), (0.780, 1.537), (0.781, 1.439), (0.782, 1.365),
    (0.783, 1.292), (0.783, 1.242), (0.783, 1.144), (0.783, 0.947), (0.784, 0.849), (0.785, 0.799),
    (0.785, 0.750), (0.786, 0.701), (0.787, 0.652), (0.788, 0.603), (0.788, 0.553), (0.789, 0.799),
    (0.760, 0.504), (0.759, 0.529), (0.765, 0.480), (0.762, 0.480),
]

aod_grid = [0.05, 0.10, 0.15, 0.20, 0.25, 0.30, 0.35, 0.40, 0.45, 0.50]
ang_grid = [0.0, 0.5, 1.0, 1.5, 2.0]
x_ticks = [0.3, 0.4, 0.5, 0.6, 0.7, 0.8]
aod_ticks = [0.0, 0.1, 0.2, 0.3, 0.4, 0.5]
ang_ticks = [0.0, 0.5, 1.0, 1.5, 2.0]

XLIM = (0.2382, 0.8108)
GRID_END = 0.8055
BLUE = '#2a62f0'
FS = 15


def xy(pairs):
    a = np.array(pairs)
    return a[:, 0], a[:, 1]


def style_axes(ax, yticks, ylim, grid, ylabel):
    ax.set_xlim(*XLIM)
    ax.set_ylim(*ylim)
    ax.set_xticks(x_ticks)
    ax.set_xticklabels(['%.1f' % t for t in x_ticks])
    ax.set_yticks(yticks)
    ax.set_yticklabels(['%.1f' % t for t in yticks], rotation=90, va='center')
    ax.tick_params(axis='both', direction='in', length=6.5, width=0.9, labelsize=FS)
    ax.tick_params(axis='x', pad=11)
    ax.tick_params(axis='y', pad=9)
    for sp in ax.spines.values():
        sp.set_linewidth(1.0)
    ax.hlines(grid, XLIM[0], GRID_END, colors=BLUE, linestyles=(0, (6.5, 3.8)),
              linewidth=1.0, zorder=3, clip_on=False)
    ax.set_xlabel('fraction of day', fontsize=FS, labelpad=8)
    ax.set_ylabel(ylabel, fontsize=FS, labelpad=10)

    # the same scale repeated on the right side
    rax = ax.twinx()
    rax.set_ylim(*ylim)
    rax.set_yticks(yticks)
    rax.set_yticklabels(['%.1f' % t for t in yticks], rotation=90, va='center')
    rax.tick_params(axis='y', direction='in', length=6.5, width=0.9, labelsize=FS, pad=4)


fig = plt.figure(figsize=(8.12, 7.93), dpi=100)
ax1 = fig.add_axes([0.0994, 0.5927, 0.8665, 0.3758])
ax2 = fig.add_axes([0.0994, 0.0816, 0.8665, 0.3755])

for pts in (aod_morning, aod_midday, aod_afternoon):
    x, y = xy(pts)
    ax1.scatter(x, y, s=4, c='black', marker='o', linewidths=0, zorder=4)
x, y = xy(aod_red)
ax1.scatter(x, y, s=7, c='red', marker='o', linewidths=0, zorder=5)
style_axes(ax1, aod_ticks, (0, 0.5), aod_grid, '500\u2212nm AOD')

for pts in (ang_morning, ang_midday, ang_afternoon):
    x, y = xy(pts)
    ax2.scatter(x, y, s=4, c='black', marker='o', linewidths=0, zorder=4)
x, y = xy(ang_red)
ax2.scatter(x, y, s=7, c='red', marker='o', linewidths=0, zorder=5)
style_axes(ax2, ang_ticks, (0, 2.2), ang_grid, 'Angstrom Exponent')

fig.savefig('out.png', dpi=100)
